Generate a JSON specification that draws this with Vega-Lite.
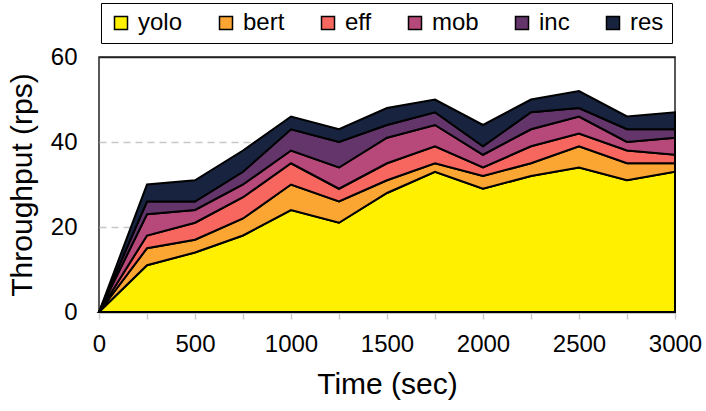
{
  "$schema": "https://vega.github.io/schema/vega-lite/v6.json",
  "width": 576,
  "height": 255,
  "autosize": {"type": "none"},
  "padding": {"left": 99, "top": 57, "right": 31, "bottom": 99},
  "config": {
    "font": "Liberation Sans",
    "view": {"stroke": "#222222", "strokeWidth": 1.5}
  },
  "data": {
    "values": [
      {"t": 0, "model": "yolo", "v": 0}, {"t": 0, "model": "bert", "v": 0}, {"t": 0, "model": "eff", "v": 0}, {"t": 0, "model": "mob", "v": 0}, {"t": 0, "model": "inc", "v": 0}, {"t": 0, "model": "res", "v": 0},
      {"t": 250, "model": "yolo", "v": 11}, {"t": 250, "model": "bert", "v": 4}, {"t": 250, "model": "eff", "v": 3}, {"t": 250, "model": "mob", "v": 5}, {"t": 250, "model": "inc", "v": 3}, {"t": 250, "model": "res", "v": 4},
      {"t": 500, "model": "yolo", "v": 14}, {"t": 500, "model": "bert", "v": 3}, {"t": 500, "model": "eff", "v": 4}, {"t": 500, "model": "mob", "v": 3}, {"t": 500, "model": "inc", "v": 2}, {"t": 500, "model": "res", "v": 5},
      {"t": 750, "model": "yolo", "v": 18}, {"t": 750, "model": "bert", "v": 4}, {"t": 750, "model": "eff", "v": 5}, {"t": 750, "model": "mob", "v": 3}, {"t": 750, "model": "inc", "v": 3}, {"t": 750, "model": "res", "v": 5},
      {"t": 1000, "model": "yolo", "v": 24}, {"t": 1000, "model": "bert", "v": 6}, {"t": 1000, "model": "eff", "v": 5}, {"t": 1000, "model": "mob", "v": 3}, {"t": 1000, "model": "inc", "v": 5}, {"t": 1000, "model": "res", "v": 3},
      {"t": 1250, "model": "yolo", "v": 21}, {"t": 1250, "model": "bert", "v": 5}, {"t": 1250, "model": "eff", "v": 3}, {"t": 1250, "model": "mob", "v": 5}, {"t": 1250, "model": "inc", "v": 6}, {"t": 1250, "model": "res", "v": 3},
      {"t": 1500, "model": "yolo", "v": 28}, {"t": 1500, "model": "bert", "v": 3}, {"t": 1500, "model": "eff", "v": 4}, {"t": 1500, "model": "mob", "v": 6}, {"t": 1500, "model": "inc", "v": 3}, {"t": 1500, "model": "res", "v": 4},
      {"t": 1750, "model": "yolo", "v": 33}, {"t": 1750, "model": "bert", "v": 2}, {"t": 1750, "model": "eff", "v": 4}, {"t": 1750, "model": "mob", "v": 5}, {"t": 1750, "model": "inc", "v": 3}, {"t": 1750, "model": "res", "v": 3},
      {"t": 2000, "model": "yolo", "v": 29}, {"t": 2000, "model": "bert", "v": 3}, {"t": 2000, "model": "eff", "v": 2}, {"t": 2000, "model": "mob", "v": 3}, {"t": 2000, "model": "inc", "v": 2}, {"t": 2000, "model": "res", "v": 5},
      {"t": 2250, "model": "yolo", "v": 32}, {"t": 2250, "model": "bert", "v": 3}, {"t": 2250, "model": "eff", "v": 4}, {"t": 2250, "model": "mob", "v": 4}, {"t": 2250, "model": "inc", "v": 4}, {"t": 2250, "model": "res", "v": 3},
      {"t": 2500, "model": "yolo", "v": 34}, {"t": 2500, "model": "bert", "v": 5}, {"t": 2500, "model": "eff", "v": 3}, {"t": 2500, "model": "mob", "v": 4}, {"t": 2500, "model": "inc", "v": 2}, {"t": 2500, "model": "res", "v": 4},
      {"t": 2750, "model": "yolo", "v": 31}, {"t": 2750, "model": "bert", "v": 4}, {"t": 2750, "model": "eff", "v": 3}, {"t": 2750, "model": "mob", "v": 2}, {"t": 2750, "model": "inc", "v": 3}, {"t": 2750, "model": "res", "v": 3},
      {"t": 3000, "model": "yolo", "v": 33}, {"t": 3000, "model": "bert", "v": 2}, {"t": 3000, "model": "eff", "v": 2}, {"t": 3000, "model": "mob", "v": 4}, {"t": 3000, "model": "inc", "v": 2}, {"t": 3000, "model": "res", "v": 4}
    ]
  },
  "transform": [
    {"calculate": "indexof(['yolo','bert','eff','mob','inc','res'], datum.model)", "as": "k"}
  ],
  "mark": {"type": "area", "stroke": "black", "strokeWidth": 2, "strokeJoin": "miter", "opacity": 1},
  "encoding": {
    "x": {
      "field": "t", "type": "quantitative",
      "scale": {"domain": [0, 3000], "nice": false, "zero": false},
      "axis": {
        "title": "Time (sec)",
        "values": [0, 250, 500, 750, 1000, 1250, 1500, 1750, 2000, 2250, 2500, 2750, 3000],
        "labelExpr": "datum.value % 500 === 0 ? datum.label : ''",
        "format": "d",
        "grid": false, "domain": false,
        "tickColor": "#cccccc", "tickSize": 7, "tickWidth": 1.5,
        "labelFontSize": 24, "labelColor": "black", "labelPadding": 13, "labelFlush": false,
        "titleFontSize": 30, "titleFontWeight": "normal", "titleColor": "black", "titlePadding": 13
      }
    },
    "y": {
      "field": "v", "type": "quantitative", "stack": "zero",
      "scale": {"domain": [0, 60], "nice": false},
      "axis": {
        "title": "Throughput (rps)",
        "values": [0, 20, 40, 60],
        "grid": true,
        "gridDash": {"condition": {"test": "datum.value === 0 || datum.value === 60", "value": []}, "value": [7, 5]},
        "gridColor": {"condition": {"test": "datum.value === 0 || datum.value === 60", "value": "#222222"}, "value": "#c8c8c8"},
        "gridWidth": 1.5,
        "domain": false, "ticks": false, "tickSize": 0,
        "labelFontSize": 24, "labelColor": "black", "labelPadding": 22,
        "titleFontSize": 30, "titleFontWeight": "normal", "titleColor": "black", "titlePadding": 13
      }
    },
    "color": {
      "field": "model", "type": "nominal",
      "scale": {
        "domain": ["yolo", "bert", "eff", "mob", "inc", "res"],
        "range": ["#fff000", "#fba533", "#f7675f", "#b7487a", "#64356b", "#17233f"]
      },
      "legend": {
        "title": null,
        "orient": "none",
        "direction": "horizontal",
        "gridAlign": "each",
        "legendX": 2,
        "legendY": -54,
        "padding": 8,
        "columnPadding": 31,
        "strokeColor": "black",
        "fillColor": "white",
        "symbolType": "square",
        "symbolSize": 169,
        "symbolStrokeColor": "black",
        "symbolStrokeWidth": 1.5,
        "symbolOpacity": 1,
        "labelFontSize": 24,
        "labelColor": "black",
        "labelOffset": 5,
        "labelLimit": 200
      }
    },
    "order": {"field": "k", "type": "quantitative", "sort": "ascending"}
  }
}
